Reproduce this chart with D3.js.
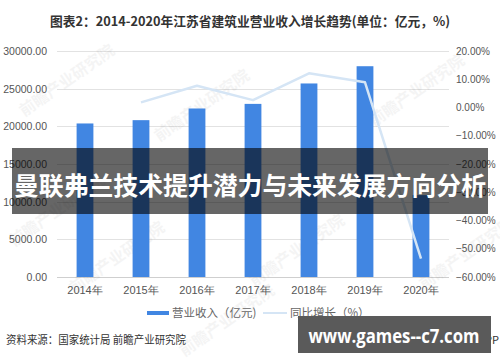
<!DOCTYPE html>
<html>
<head>
<meta charset="utf-8">
<script src="https://cdn.jsdelivr.net/npm/d3@7"></script>
<style>
  body { margin: 0; background: #fff; }
  svg { display: block; }
</style>
</head>
<body>
<script>
// chart data
var years = ["2014年", "2015年", "2016年", "2017年", "2018年", "2019年", "2020年"];
var revenue = [20380, 20820, 22370, 22980, 25690, 27980, 10870]; // 亿元
var growth = [null, 1.8, 7.7, 2.6, 12.1, 8.9, -53.5];          // %
var leftTicks = [0, 5000, 10000, 15000, 20000, 25000, 30000];
var rightTicks = [-60, -50, -40, -30, -20, -10, 0, 10, 20];

var width = 500, height = 362;
var plotL = 57, plotR = 449, plotT = 51, plotB = 277;
var font = "'Noto Sans CJK SC', 'Liberation Sans', sans-serif";

var svg = d3.select("body").append("svg")
    .attr("width", width)
    .attr("height", height)
    .style("font-family", font);

var x = d3.scaleBand()
    .domain(years)
    .range([plotL, plotR])
    .paddingInner(0.7)
    .paddingOuter(0.35);

var yL = d3.scaleLinear().domain([0, 30000]).range([plotB, plotT]);
var yR = d3.scaleLinear().domain([-60, 20]).range([plotB, plotT]);

// title
svg.append("text")
    .attr("x", 250).attr("y", 26)
    .attr("text-anchor", "middle")
    .attr("font-size", 13).attr("font-weight", "bold")
    .attr("fill", "#333")
    .attr("textLength", 400).attr("lengthAdjust", "spacingAndGlyphs")
    .text("图表2：2014-2020年江苏省建筑业营业收入增长趋势(单位：亿元，%)");

// grid lines
svg.append("g")
  .selectAll("line")
  .data(leftTicks)
  .enter().append("line")
    .attr("x1", plotL).attr("x2", plotR)
    .attr("y1", function(d) { return Math.round(yL(d)) + 0.5; })
    .attr("y2", function(d) { return Math.round(yL(d)) + 0.5; })
    .attr("stroke", function(d) { return d == 0 ? "#cfcfcf" : "#e2e2e2"; })
    .attr("stroke-width", 1);

// faint watermarks
var marks = [[70, 85], [205, 110], [420, 95], [120, 262], [300, 255], [470, 258], [60, 215], [230, 325]];
svg.append("g")
  .selectAll("text")
  .data(marks)
  .enter().append("text")
    .attr("transform", function(d) { return "translate(" + d[0] + "," + d[1] + ") rotate(-35)"; })
    .attr("text-anchor", "middle")
    .attr("font-size", 16).attr("font-weight", "bold")
    .attr("fill", "#000").attr("opacity", 0.04)
    .text("前瞻产业研究院");

// left axis
var axL = svg.append("g")
    .attr("transform", "translate(" + plotL + ",0)")
    .call(d3.axisLeft(yL).tickValues(leftTicks).tickSize(0).tickPadding(10)
      .tickFormat(function(d) { return d3.format(".2f")(d); }));
axL.select(".domain").remove();
axL.selectAll("text").attr("font-size", 10.5).attr("fill", "#555")
    .style("font-family", "'Liberation Sans', sans-serif");

// right axis
var axR = svg.append("g")
    .attr("transform", "translate(" + plotR + ",0)")
    .call(d3.axisRight(yR).tickValues(rightTicks).tickSize(0).tickPadding(7)
      .tickFormat(function(d) { return d3.format(".2f")(d) + "%"; }));
axR.select(".domain").remove();
axR.selectAll("text").attr("font-size", 10).attr("fill", "#555")
    .style("font-family", "'Liberation Sans', sans-serif");

// x axis
var axX = svg.append("g")
    .attr("transform", "translate(0," + plotB + ")")
    .call(d3.axisBottom(x).tickSize(0).tickPadding(9));
axX.select(".domain").remove();
axX.selectAll("text").attr("font-size", 11).attr("fill", "#555");

// bars
svg.append("g")
  .selectAll("rect")
  .data(revenue)
  .enter().append("rect")
    .attr("x", function(d, i) { return x(years[i]); })
    .attr("y", function(d) { return yL(d); })
    .attr("width", x.bandwidth())
    .attr("height", function(d) { return yL(0) - yL(d); })
    .attr("fill", "#4186e2");

// growth line
var line = d3.line()
    .defined(function(d) { return d != null; })
    .x(function(d, i) { return x(years[i]) + x.bandwidth() / 2; })
    .y(function(d) { return yR(d); });

svg.append("path")
    .datum(growth)
    .attr("d", line)
    .attr("fill", "none")
    .attr("stroke", "#d5e5f5")
    .attr("stroke-width", 2.5)
    .attr("stroke-linejoin", "round");

// legend
var lg = svg.append("g").attr("font-size", 11.5).attr("fill", "#666");
lg.append("rect").attr("x", 147).attr("y", 311).attr("width", 22).attr("height", 4).attr("fill", "#4186e2");
lg.append("text").attr("x", 172).attr("y", 317).text("营业收入（亿元)");
lg.append("line").attr("x1", 263).attr("x2", 287).attr("y1", 313).attr("y2", 313)
    .attr("stroke", "#d5e5f5").attr("stroke-width", 2);
lg.append("text").attr("x", 290).attr("y", 317).text("同比增长（%）");

// source
svg.append("text")
    .attr("x", 6).attr("y", 344)
    .attr("font-size", 11).attr("fill", "#333")
    .attr("textLength", 180).attr("lengthAdjust", "spacingAndGlyphs")
    .text("资料来源：国家统计局 前瞻产业研究院");
svg.append("text")
    .attr("x", 499).attr("y", 344)
    .attr("text-anchor", "end")
    .attr("font-size", 11).attr("fill", "#333")
    .text("@前瞻经济学人APP");

// overlay banner
svg.append("rect")
    .attr("x", 12).attr("y", 148).attr("width", 476).attr("height", 66)
    .attr("fill", "#000").attr("opacity", 0.6);
svg.append("text")
    .attr("x", 250).attr("y", 195)
    .attr("text-anchor", "middle")
    .attr("font-size", 25).attr("font-weight", "bold")
    .attr("fill", "#fff")
    .attr("textLength", 472).attr("lengthAdjust", "spacingAndGlyphs")
    .text("曼联弗兰技术提升潜力与未来发展方向分析");

// site stamp
svg.append("rect")
    .attr("x", 298).attr("y", 316).attr("width", 193).attr("height", 37)
    .attr("fill", "#5a5a5a");
svg.append("text")
    .attr("x", 394).attr("y", 343)
    .attr("text-anchor", "middle")
    .attr("font-size", 20).attr("font-weight", "bold")
    .attr("fill", "#fff")
    .attr("textLength", 171).attr("lengthAdjust", "spacingAndGlyphs")
    .style("font-family", "'Open Sans', 'DejaVu Sans', sans-serif")
    .text("www.games--c7.com");
</script>
</body>
</html>
